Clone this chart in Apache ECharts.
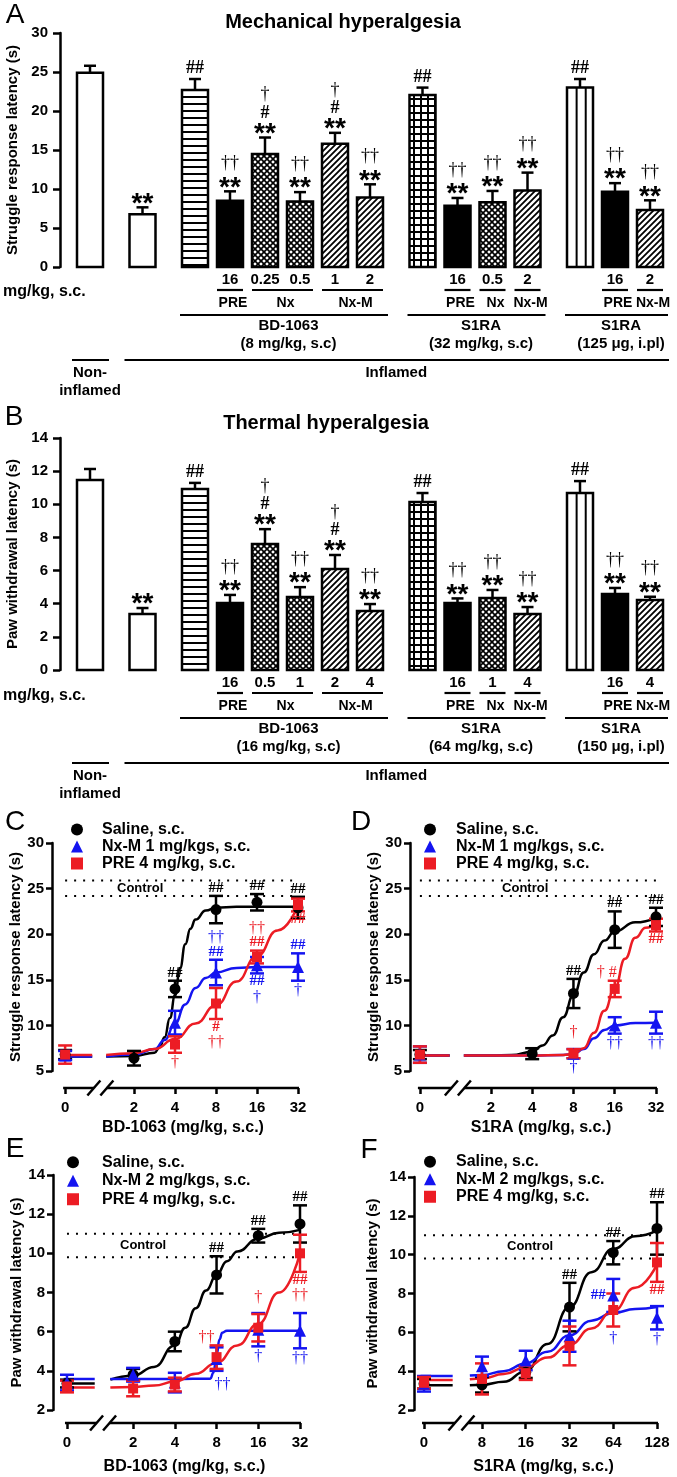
<!DOCTYPE html>
<html>
<head>
<meta charset="utf-8">
<script src="https://cdn.jsdelivr.net/npm/echarts@6/dist/echarts.min.js"></script>
<style>
  html, body { margin: 0; padding: 0; background: #fff; }
  #chart { width: 677px; height: 1477px; }
</style>
</head>
<body>
<div id="chart"></div>
<script>
const FONT = '"Liberation Sans", Arial, sans-serif';
const SERIF = '"Liberation Serif", "Times New Roman", serif';
const BLACK = '#000000', BLUE = '#1414f0', RED = '#ec1c24';

// ---------- A / B: bar charts ----------
const barGroupSizes = [1, 1, 6, 4, 3];
const mechMean = [24.9, 6.75, 22.7, 8.5, 14.5, 8.4, 15.8, 8.9, 22.05, 7.85, 8.3, 9.8, 23.0, 9.65, 7.3];
const mechSem = [0.9, 0.9, 1.4, 1.2, 2.1, 1.2, 1.4, 1.7, 0.95, 1.0, 1.45, 2.3, 1.1, 1.1, 1.25];
const thermMean = [11.47, 3.38, 10.92, 4.04, 7.6, 4.4, 6.1, 3.56, 10.14, 4.04, 4.35, 3.38, 10.68, 4.59, 4.22];
const thermSem = [0.66, 0.36, 0.37, 0.49, 0.9, 0.6, 0.84, 0.42, 0.54, 0.28, 0.48, 0.42, 0.72, 0.36, 0.2];
const barMarks = ['', '**', '##', '††|**', '†|#|**', '††|**', '†|#|**', '††|**', '##', '††|**', '††|**', '††|**', '##', '††|**', '††|**'];
const mechDoses = ['', '', '', '16', '0.25', '0.5', '1', '2', '', '16', '0.5', '2', '', '16', '2'];
const thermDoses = ['', '', '', '16', '0.5', '1', '2', '4', '', '16', '1', '4', '', '16', '4'];
const treatGroups = [['PRE', 3, 3], ['Nx', 4, 5], ['Nx-M', 6, 7], ['PRE', 9, 9], ['Nx', 10, 10], ['Nx-M', 11, 11], ['PRE', 13, 13], ['Nx-M', 14, 14]];
const mechDrugs = [['BD-1063', '(8 mg/kg, s.c)', 2, 7], ['S1RA', '(32 mg/kg, s.c)', 8, 11], ['S1RA', '(125 μg, i.pl)', 12, 14]];
const thermDrugs = [['BD-1063', '(16 mg/kg, s.c)', 2, 7], ['S1RA', '(64 mg/kg, s.c)', 8, 11], ['S1RA', '(150 μg, i.pl)', 12, 14]];
const conditionGroups = [['Non-\ninflamed', 0, 0], ['Inflamed', 1, 14]];
const barFill = ['open', 'open', 'hstripe', 'solid', 'cross', 'cross', 'diag', 'diag', 'grid', 'solid', 'cross', 'diag', 'vstripe', 'solid', 'diag'];

// ---------- C: struggle latency, BD-1063 ----------
const dosesC = [0, 2, 4, 8, 16, 32];
const salineC = [6.8, 6.4, 14.0, 22.7, 23.5, 22.9];
const salineSemC = [0.5, 0.8, 0.9, 1.5, 0.9, 1.2];
const nxmC = [6.7, null, 10.3, 15.8, 16.6, 16.4];
const nxmSemC = [0.5, null, 1.3, 1.4, 0.9, 1.5];
const preC = [6.8, null, 7.9, 12.4, 17.5, 23.2];
const preSemC = [1.0, null, 0.9, 1.7, 0.7, 0.7];
const salineFitDoseC = [1.25, 2, 2.83, 3.08, 3.36, 3.67, 4, 4.36, 4.76, 5.19, 5.66, 6.73, 8, 11.3, 16, 32];
const salineFitC = [6.6, 6.65, 7.0, 7.6, 8.7, 10.8, 13.3, 16.3, 18.9, 20.6, 21.6, 22.6, 22.9, 23.0, 23.0, 23.0];
const nxmFitDoseC = [1.25, 2, 2.83, 3.36, 4, 4.76, 5.66, 6.73, 8, 11.3, 16, 32];
const nxmFitC = [6.6, 6.8, 7.4, 8.4, 10.2, 12.3, 14.1, 15.2, 15.8, 16.3, 16.4, 16.4];
const preFitDoseC = [1.25, 2, 2.83, 4, 5.66, 8, 11.3, 16, 22.6, 32];
const preFitC = [6.75, 6.95, 7.4, 8.5, 10.2, 12.2, 14.8, 17.6, 20.4, 23.1];
const zeroFitC = [6.6, 6.6, 6.75];
const controlC = [24.2, 25.9];
const marksC = [
  [0, 4, '##', 'up'], [0, 8, '##', 'up'], [0, 16, '##', 'up'], [0, 32, '##', 'up'],
  [1, 8, '††|##', 'up'], [1, 16, '##|†', 'down'], [1, 32, '##', 'up'], [1, 32, '†', 'down'],
  [2, 4, '†', 'down'], [2, 8, '#|††', 'down'], [2, 16, '††|##', 'up'], [2, 32, '##', 'down']
];

// ---------- D: struggle latency, S1RA ----------
const dosesD = [0, 4, 8, 16, 32];
const salineD = [6.8, 6.9, 13.5, 20.5, 21.9];
const salineSemD = [0.5, 0.6, 1.6, 2.0, 1.0];
const nxmD = [6.8, null, 6.9, 10.0, 10.3];
const nxmSemD = [0.9, null, 0.5, 0.9, 1.2];
const preD = [6.8, null, 6.9, 14.0, 21.0];
const preSemD = [0.9, null, 0.5, 0.9, 0.7];
const salineFitDoseD = [1.27, 2, 2.83, 4, 4.76, 5.66, 6.73, 8, 9.51, 11.3, 13.45, 16, 22.6, 32];
const salineFitD = [6.7, 6.7, 6.75, 7.1, 7.8, 8.9, 10.9, 13.3, 15.8, 17.8, 19.3, 20.3, 21.3, 21.8];
const nxmFitDoseD = [1.27, 4, 6.73, 8, 9.51, 11.3, 13.45, 16, 22.6, 32];
const nxmFitD = [6.7, 6.7, 6.75, 6.85, 7.4, 8.6, 9.5, 10.0, 10.25, 10.3];
const preFitDoseD = [1.27, 4, 6.73, 8, 9.51, 11.3, 13.45, 16, 19.03, 22.6, 26.9, 32];
const preFitD = [6.7, 6.7, 6.75, 6.85, 7.5, 9.2, 11.6, 14.1, 17.3, 19.6, 20.7, 21.2];
const zeroFitD = [6.7, 6.7, 6.7];
const controlD = [24.2, 25.9];
const marksD = [
  [0, 8, '##', 'up'], [0, 16, '##', 'up'], [0, 32, '##', 'up'],
  [1, 8, '†', 'down'], [1, 16, '††', 'down'], [1, 32, '††', 'down'],
  [2, 8, '†', 'up', 0, -8], [2, 16, '† #', 'up', -8], [2, 32, '##', 'down']
];

// ---------- E: paw withdrawal, BD-1063 ----------
const dosesE = [0, 2, 4, 8, 16, 32];
const salineE = [3.35, 3.8, 5.5, 8.9, 10.9, 11.5];
const salineSemE = [0.2, 0.3, 0.5, 0.95, 0.35, 0.95];
const nxmE = [3.4, 3.8, 3.4, 4.6, 6.1, 6.05];
const nxmSemE = [0.4, 0.35, 0.5, 0.6, 0.85, 0.9];
const preE = [3.2, 3.1, 3.3, 4.7, 6.2, 10.0];
const preSemE = [0.3, 0.4, 0.35, 0.6, 0.7, 0.95];
const salineFitDoseE = [1.37, 2, 2.83, 4, 4.76, 5.66, 6.73, 8, 9.51, 11.3, 16, 22.6, 32];
const salineFitE = [3.55, 3.75, 4.2, 5.3, 6.2, 7.2, 8.1, 8.9, 9.6, 10.1, 10.75, 11.05, 11.2];
const nxmFitDoseE = [1.37, 4, 7.2, 7.6, 8, 8.4, 8.8, 9.5, 16, 32];
const nxmFitE = [3.58, 3.58, 3.6, 3.9, 4.8, 5.6, 5.95, 6.05, 6.05, 6.05];
const preFitDoseE = [1.37, 2, 2.83, 4, 5.66, 8, 11.3, 16, 22.6, 32];
const preFitE = [3.15, 3.18, 3.25, 3.45, 3.85, 4.4, 5.3, 6.4, 8.0, 10.0];
const zeroFitE = [3.35, 3.58, 3.15];
const controlE = [9.8, 11.0];
const marksE = [
  [0, 8, '##', 'up'], [0, 16, '##', 'up'], [0, 32, '##', 'up'],
  [1, 8, '††', 'down', 6, 4], [1, 16, '†', 'down'], [1, 32, '††', 'down'],
  [2, 8, '††', 'up', -10], [2, 16, '†', 'up', 0, -8], [2, 32, '##|††', 'down']
];

// ---------- F: paw withdrawal, S1RA ----------
const dosesF = [0, 8, 16, 32, 64, 128];
const salineF = [3.35, 3.3, 3.95, 7.3, 10.1, 11.35];
const salineSemF = [0.25, 0.4, 0.3, 1.25, 0.6, 1.35];
const nxmF = [3.35, 4.25, 4.55, 5.8, 7.9, 6.75];
const nxmSemF = [0.4, 0.5, 0.5, 0.8, 0.85, 0.6];
const preF = [3.4, 3.6, 3.9, 5.3, 7.15, 9.6];
const preSemF = [0.3, 0.8, 0.35, 1.0, 0.85, 1.0];
const fitDoseF = [6.6, 8, 11.3, 16, 22.6, 32, 45.3, 64, 90.5, 128];
const salineFitF = [3.28, 3.3, 3.45, 4.0, 5.4, 7.3, 9.1, 10.3, 10.95, 11.25];
const nxmFitF = [3.78, 3.8, 4.0, 4.4, 5.0, 5.85, 6.6, 7.0, 7.2, 7.3];
const preFitF = [3.58, 3.62, 3.85, 4.2, 4.7, 5.35, 6.2, 7.1, 8.3, 9.5];
const zeroFitF = [3.28, 3.75, 3.55];
const controlF = [9.8, 11.0];
const marksF = [
  [0, 32, '##', 'up'], [0, 64, '##', 'up'], [0, 128, '##', 'up'],
  [1, 64, '##', 'left'], [1, 64, '†', 'down', 0, 17], [1, 128, '†', 'down'],
  [2, 128, '##', 'down']
];

const namesCD = ['Saline, s.c.', 'Nx-M 1 mg/kgs, s.c.', 'PRE 4 mg/kg, s.c.'];
const namesEF = ['Saline, s.c.', 'Nx-M 2 mg/kgs, s.c.', 'PRE 4 mg/kg, s.c.'];
const ticksBD = [0, 2, 4, 8, 16, 32];
const ticksS1RA = [0, 8, 16, 32, 64, 128];

// ---------- layout ----------
const groupColors = [BLACK, BLUE, RED];
const groupSymbols = ['circle', 'triangle', 'rect'];
const groupSymbolSize = [11, 12, 10];
const BAR_W = 26 / 35;

const layC = { grid: 2, left: 52, top: 843, width: 246, height: 228, xMin: -1, xMax: 5, yMin: 5, yMax: 30, yStep: 5, zeroPos: -0.68, breakAt: 0.18, offset: 17, ctrlAt: 1.15, name: 'Struggle response latency (s)', nameGap: 27, xName: 'BD-1063 (mg/kg, s.c.)', xNameGap: 32, ticks: ticksBD };
const layD = { grid: 3, left: 410, top: 843, width: 246, height: 228, xMin: -0.96, xMax: 5, yMin: 5, yMax: 30, yStep: 5, zeroPos: -0.72, breakAt: 0.2, offset: 17, ctrlAt: 1.83, name: 'Struggle response latency (s)', nameGap: 29, xName: 'S1RA (mg/kg, s.c.)', xNameGap: 32, ticks: ticksBD };
const layE = { grid: 4, left: 53, top: 1175, width: 247, height: 235, xMin: -0.92, xMax: 5, yMin: 2, yMax: 14, yStep: 2, zeroPos: -0.585, breakAt: 0.28, offset: 13, ctrlAt: 1.24, name: 'Paw withdrawal latency (s)', nameGap: 27, xName: 'BD-1063 (mg/kg, s.c.)', xNameGap: 36, ticks: ticksBD };
const layF = { grid: 5, left: 414, top: 1177, width: 243, height: 233, xMin: 1.446, xMax: 7, yMin: 2, yMax: 14, yStep: 2, zeroPos: 1.675, breakAt: 2.53, offset: 13, ctrlAt: 4.1, name: 'Paw withdrawal latency (s)', nameGap: 34, xName: 'S1RA (mg/kg, s.c.)', xNameGap: 36, ticks: ticksS1RA };

// ---------- bar fill patterns ----------
function patternCanvas(w, h, draw) {
  const c = document.createElement('canvas');
  c.width = w; c.height = h;
  const ctx = c.getContext('2d');
  ctx.fillStyle = '#fff'; ctx.fillRect(0, 0, w, h);
  ctx.fillStyle = '#000'; ctx.strokeStyle = '#000';
  draw(ctx);
  return { image: c, repeat: 'repeat' };
}
const fillStyles = {
  open: '#fff',
  solid: '#000',
  vstripe: '#fff',
  hstripe: patternCanvas(8, 7, ctx => ctx.fillRect(0, 5, 8, 2)),
  grid: patternCanvas(7, 7, ctx => { ctx.fillRect(0, 0, 7, 2); ctx.fillRect(0, 0, 2, 7); }),
  diag: patternCanvas(6, 6, ctx => {
    ctx.lineWidth = 1.8; ctx.beginPath();
    ctx.moveTo(-1, 7); ctx.lineTo(7, -1);
    ctx.moveTo(-1, 1); ctx.lineTo(1, -1);
    ctx.moveTo(5, 7); ctx.lineTo(7, 5);
    ctx.stroke();
  }),
  cross: patternCanvas(6, 6, ctx => {
    ctx.lineWidth = 1.7; ctx.beginPath();
    ctx.moveTo(-1, 7); ctx.lineTo(7, -1);
    ctx.moveTo(-1, -1); ctx.lineTo(7, 7);
    ctx.stroke();
  })
};

// ---------- significance marks ----------
const BAR_MARKS = {
  '*': { font: `bold 28px ${FONT}`, h: 14, dy: 6.5 },
  '#': { font: `bold 18px ${SERIF}`, h: 15, dy: 0 },
  '†': { font: `18px ${SERIF}`, h: 24, dy: 1 }
};
const DOSE_MARKS = {
  '*': { font: `bold 22px ${FONT}`, h: 12, dy: 5 },
  '#': { font: `bold 15px ${SERIF}`, h: 14, dy: 0 },
  '†': { font: `16px ${SERIF}`, h: 16, dy: 1 }
};

function markStack(lines, x, y0, dir, set, color) {
  const order = dir < 0 ? lines.slice().reverse() : lines;
  let cursor = y0;
  return order.map(line => {
    const f = set[line.trim()[0]];
    const cy = cursor + dir * f.h / 2;
    cursor += dir * f.h;
    return { type: 'text', x, y: cy + f.dy, style: { text: line, font: f.font, fill: color, align: 'center', verticalAlign: 'middle' } };
  });
}

// ---------- slot positions for the bars ----------
const slotPos = [];
(function () {
  let p = 0;
  barGroupSizes.forEach((n, g) => {
    if (g > 0) p += 0.5;
    for (let k = 0; k < n; k++) { slotPos.push(p); p += 1; }
  });
})();

function barRenderer(params, api) {
  const i = params.dataIndex;
  const x = api.value(0), m = api.value(1), s = api.value(2);
  const base = api.coord([x, 0]), top = api.coord([x, m]), et = api.coord([x, m + s]);
  const w = api.size([BAR_W, 0])[0];
  const x0 = base[0] - w / 2;
  const st = { stroke: '#000', lineWidth: 2.5 };
  const children = [
    { type: 'line', shape: { x1: base[0], y1: top[1], x2: base[0], y2: et[1] }, style: st },
    { type: 'line', shape: { x1: base[0] - 6, y1: et[1], x2: base[0] + 6, y2: et[1] }, style: st },
    { type: 'rect', shape: { x: x0, y: top[1], width: w, height: base[1] - top[1] }, style: { fill: fillStyles[barFill[i]], stroke: '#000', lineWidth: 2.5 } }
  ];
  if (barFill[i] === 'vstripe') {
    [0.37, 0.72].forEach(f => children.push({ type: 'line', shape: { x1: x0 + f * w, y1: top[1], x2: x0 + f * w, y2: base[1] }, style: { stroke: '#000', lineWidth: 2 } }));
  }
  if (barMarks[i]) children.push(...markStack(barMarks[i].split('|'), base[0], et[1] - 3, -1, BAR_MARKS, '#000'));
  return { type: 'group', children };
}

function buildBarAnnotations(doses, drugs) {
  const items = [];
  doses.forEach((d, i) => { if (d) items.push({ kind: 'dose', text: d, from: i, to: i }); });
  treatGroups.forEach(t => items.push({ kind: 'treat', text: t[0], from: t[1], to: t[2] }));
  drugs.forEach(t => items.push({ kind: 'drug', text: t[0], sub: t[1], from: t[2], to: t[3] }));
  conditionGroups.forEach(t => items.push({ kind: 'cond', text: t[0], from: t[1], to: t[2] }));
  return items;
}

function annoRenderer(items) {
  return (params, api) => {
    const a = items[params.dataIndex];
    const zeroY = api.coord([0, 0])[1];
    const half = api.size([BAR_W, 0])[0] / 2;
    const xl = api.coord([api.value(0), 0])[0] - half;
    const xr = api.coord([api.value(1), 0])[0] + half;
    const xc = (xl + xr) / 2;
    const st = { stroke: '#000', lineWidth: 2.2 };
    const txt = (text, x, y, size) => ({ type: 'text', x, y, style: { text, font: `bold ${size || 15}px ${FONT}`, fill: '#000', align: 'center', verticalAlign: 'middle', lineHeight: 18 } });
    const ln = (x1, x2, y) => ({ type: 'line', shape: { x1, y1: y, x2, y2: y }, style: st });
    if (a.kind === 'dose') return txt(a.text, xc, zeroY + 13);
    if (a.kind === 'treat') return { type: 'group', children: [ln(xl, xr, zeroY + 23), txt(a.text, xc + 3, zeroY + 36, 14)] };
    if (a.kind === 'drug') return { type: 'group', children: [ln(xl - 2, xr + 5, zeroY + 48), txt(a.text, xc + 6, zeroY + 59), txt(a.sub, xc + 6, zeroY + 77)] };
    const twoLine = a.text.indexOf('\n') >= 0;
    return { type: 'group', children: [ln(xl - 5, xr + 6, zeroY + 93), txt(a.text, xc, zeroY + (twoLine ? 115 : 106))] };
  };
}

// ---------- dose-response panels ----------
function doseX(d, zeroPos) { return d === 0 ? zeroPos : Math.log2(d); }

function dosePanelSeries(L, names, doses, means, sems, fitDoses, fits, zeroFit, control, marks) {
  const ax = { xAxisIndex: L.grid, yAxisIndex: L.grid };
  const series = [];
  // control band
  series.push(Object.assign({
    type: 'custom', z: 1, clip: false, silent: true,
    data: [[L.zeroPos, L.xMax, control[0], control[1]]],
    renderItem: (params, api) => {
      const lo = api.coord([api.value(0), api.value(2)]);
      const hi = api.coord([api.value(0), api.value(3)]);
      const xe = api.coord([api.value(1), api.value(2)])[0];
      const mid = api.coord([L.ctrlAt, (api.value(2) + api.value(3)) / 2]);
      const dot = { stroke: '#000', lineWidth: 2, lineDash: [2, 7] };
      return { type: 'group', children: [
        { type: 'line', shape: { x1: lo[0], y1: lo[1], x2: xe, y2: lo[1] }, style: dot },
        { type: 'line', shape: { x1: hi[0], y1: hi[1], x2: xe, y2: hi[1] }, style: dot },
        { type: 'text', x: mid[0], y: mid[1], style: { text: 'Control', font: `bold 13px ${FONT}`, fill: '#000', align: 'center', verticalAlign: 'middle' } }
      ] };
    }
  }, ax));
  // x axis line with break
  series.push(Object.assign({
    type: 'custom', z: 2, clip: false, silent: true,
    data: [[L.xMin, L.yMin]],
    renderItem: (params, api) => {
      const y = api.coord([L.xMin, L.yMin])[1] + L.offset;
      const x0 = api.coord([L.zeroPos, L.yMin])[0] - 2;
      const xb = api.coord([L.breakAt, L.yMin])[0];
      const x1 = api.coord([doseX(L.ticks[L.ticks.length - 1], L.zeroPos), L.yMin])[0] + 1;
      const st = { stroke: '#000', lineWidth: 2.5 };
      return { type: 'group', children: [
        { type: 'line', shape: { x1: x0, y1: y, x2: xb - 6.5, y2: y }, style: st },
        { type: 'line', shape: { x1: xb + 6.5, y1: y, x2: x1, y2: y }, style: st },
        { type: 'line', shape: { x1: xb - 13, y1: y + 7.5, x2: xb, y2: y - 7.5 }, style: st },
        { type: 'line', shape: { x1: xb, y1: y + 7.5, x2: xb + 13, y2: y - 7.5 }, style: st }
      ] };
    }
  }, ax));
  for (let g = 0; g < 3; g++) {
    const col = groupColors[g];
    series.push(Object.assign({
      type: 'line', z: 2, clip: false, silent: true, symbol: 'none',
      lineStyle: { color: col, width: 2.5 },
      data: [[L.zeroPos - 0.08, zeroFit[g]], [L.breakAt - 0.2, zeroFit[g]]]
    }, ax));
    series.push(Object.assign({
      type: 'line', z: 2, clip: false, silent: true, symbol: 'none', smooth: true, smoothMonotone: 'x',
      lineStyle: { color: col, width: 2.5 },
      data: fitDoses[g].map((d, i) => [Math.log2(d), fits[g][i]])
    }, ax));
  }
  for (let g = 0; g < 3; g++) {
    const col = groupColors[g];
    const pts = [];
    doses.forEach((d, i) => { if (means[g][i] != null) pts.push([doseX(d, L.zeroPos), means[g][i], sems[g][i]]); });
    series.push(Object.assign({
      type: 'custom', z: 3, clip: false, silent: true, data: pts,
      renderItem: (params, api) => {
        const x = api.value(0), m = api.value(1), s = api.value(2);
        const t = api.coord([x, m + s]), b = api.coord([x, m - s]);
        const st = { stroke: col, lineWidth: 2.5 };
        return { type: 'group', children: [
          { type: 'line', shape: { x1: t[0], y1: t[1], x2: b[0], y2: b[1] }, style: st },
          { type: 'line', shape: { x1: t[0] - 7, y1: t[1], x2: t[0] + 7, y2: t[1] }, style: st },
          { type: 'line', shape: { x1: b[0] - 7, y1: b[1], x2: b[0] + 7, y2: b[1] }, style: st }
        ] };
      }
    }, ax));
  }
  for (let g = 0; g < 3; g++) {
    const pts = [];
    doses.forEach((d, i) => { if (means[g][i] != null) pts.push([doseX(d, L.zeroPos), means[g][i]]); });
    series.push(Object.assign({
      type: 'scatter', name: names[g], z: 4, clip: false, silent: true,
      symbol: groupSymbols[g], symbolSize: groupSymbolSize[g],
      itemStyle: { color: groupColors[g], opacity: 1 },
      data: pts
    }, ax));
  }
  // significance marks
  series.push(Object.assign({
    type: 'custom', z: 5, clip: false, silent: true,
    data: marks.map(sp => {
      const i = doses.indexOf(sp[1]);
      return [doseX(sp[1], L.zeroPos), means[sp[0]][i], sems[sp[0]][i]];
    }),
    renderItem: (params, api) => {
      const sp = marks[params.dataIndex];
      const x = api.value(0), m = api.value(1), s = api.value(2);
      const col = groupColors[sp[0]];
      const dx = sp[4] || 0, dy = sp[5] || 0;
      const lines = sp[2].split('|');
      let children;
      if (sp[3] === 'up') {
        const p = api.coord([x, m + s]);
        children = markStack(lines, p[0] + dx, p[1] - 1 + dy, -1, DOSE_MARKS, col);
      } else if (sp[3] === 'down') {
        const p = api.coord([x, m - s]);
        children = markStack(lines, p[0] + dx, p[1] + 1 + dy, 1, DOSE_MARKS, col);
      } else {
        const p = api.coord([x, m]);
        children = [{ type: 'text', x: p[0] - 15 + dx, y: p[1] + dy, style: { text: sp[2], font: DOSE_MARKS['#'].font, fill: col, align: 'center', verticalAlign: 'middle' } }];
      }
      return { type: 'group', children };
    }
  }, ax));
  return series;
}

// ---------- axes ----------
const axisLineStyle = { color: '#000', width: 2.5 };
function yAxisCfg(grid, min, max, step, name, gap, tickLen, margin) {
  return {
    type: 'value', gridIndex: grid, min, max, interval: step,
    name, nameLocation: 'middle', nameGap: gap, nameRotate: 90,
    nameTextStyle: { fontFamily: FONT, fontWeight: 'bold', fontSize: 15, color: '#000' },
    axisLine: { show: true, onZero: false, lineStyle: axisLineStyle },
    axisTick: { show: true, length: tickLen, lineStyle: axisLineStyle },
    axisLabel: { color: '#000', fontFamily: FONT, fontWeight: 'bold', fontSize: 15, margin },
    splitLine: { show: false }
  };
}
function doseAxisCfg(L) {
  const ticks = L.ticks.map(d => doseX(d, L.zeroPos));
  return {
    type: 'value', gridIndex: L.grid, min: L.xMin, max: L.xMax, offset: L.offset,
    name: L.xName, nameLocation: 'middle', nameGap: L.xNameGap,
    nameTextStyle: { fontFamily: FONT, fontWeight: 'bold', fontSize: 16, color: '#000', padding: [0, 0, 0, 16] },
    axisLine: { show: false, onZero: false },
    axisTick: { show: true, customValues: ticks, length: 6, lineStyle: axisLineStyle },
    axisLabel: {
      customValues: ticks, margin: 12, color: '#000', fontFamily: FONT, fontWeight: 'bold', fontSize: 15,
      formatter: v => {
        const k = ticks.findIndex(t => Math.abs(t - v) < 1e-6);
        return k >= 0 ? String(L.ticks[k]) : '';
      }
    },
    splitLine: { show: false }
  };
}
// icon centre at iconX, text starting at textX
function legendCfg(iconX, textX, top, lineHeight, names) {
  return {
    orient: 'vertical', left: iconX - 6, top, padding: 0, itemGap: 0, itemWidth: 12, itemHeight: 12,
    selectedMode: false,
    textStyle: { fontFamily: FONT, fontWeight: 'bold', fontSize: 16, color: '#000', lineHeight, padding: [0, 0, 0, textX - iconX - 11] },
    data: names.map((n, i) => ({ name: n, icon: groupSymbols[i] }))
  };
}
function gridOf(L) { return { left: L.left, top: L.top, width: L.width, height: L.height, outerBoundsMode: 'none' }; }

const annA = buildBarAnnotations(mechDoses, mechDrugs);
const annB = buildBarAnnotations(thermDoses, thermDrugs);

function textEl(text, x, y, font, align) {
  return { type: 'text', x, y, silent: true, style: { text, font, fill: '#000', align: align || 'center', verticalAlign: 'middle' } };
}

const option = {
  animation: false,
  backgroundColor: '#fff',
  textStyle: { fontFamily: FONT },
  grid: [
    { left: 60, top: 33, width: 610, height: 234, outerBoundsMode: 'none' },
    { left: 60, top: 438, width: 610, height: 232, outerBoundsMode: 'none' },
    gridOf(layC), gridOf(layD), gridOf(layE), gridOf(layF)
  ],
  xAxis: [
    { type: 'value', gridIndex: 0, min: -6 / 7, max: 116 / 7, show: false },
    { type: 'value', gridIndex: 1, min: -6 / 7, max: 116 / 7, show: false },
    doseAxisCfg(layC), doseAxisCfg(layD), doseAxisCfg(layE), doseAxisCfg(layF)
  ],
  yAxis: [
    yAxisCfg(0, 0, 30, 5, 'Struggle response latency (s)', 35, 7, 12),
    yAxisCfg(1, 0, 14, 2, 'Paw withdrawal latency (s)', 40, 7, 12),
    yAxisCfg(2, layC.yMin, layC.yMax, layC.yStep, layC.name, layC.nameGap, 6, 8),
    yAxisCfg(3, layD.yMin, layD.yMax, layD.yStep, layD.name, layD.nameGap, 6, 8),
    yAxisCfg(4, layE.yMin, layE.yMax, layE.yStep, layE.name, layE.nameGap, 6, 8),
    yAxisCfg(5, layF.yMin, layF.yMax, layF.yStep, layF.name, layF.nameGap, 6, 8)
  ],
  legend: [
    legendCfg(77, 102, 821, 17, namesCD),
    legendCfg(430, 456, 821, 17, namesCD),
    legendCfg(73, 102, 1153, 18.5, namesEF),
    legendCfg(430, 456, 1153, 17.5, namesEF)
  ],
  graphic: [
    textEl('A', 15, 15, `28px ${FONT}`),
    textEl('Mechanical hyperalgesia', 343, 22, `bold 20px ${FONT}`),
    textEl('mg/kg, s.c.', 3, 292, `bold 16px ${FONT}`, 'left'),
    textEl('B', 14, 417, `28px ${FONT}`),
    textEl('Thermal hyperalgesia', 326, 423, `bold 20px ${FONT}`),
    textEl('mg/kg, s.c.', 3, 696, `bold 16px ${FONT}`, 'left'),
    textEl('C', 15, 822, `28px ${FONT}`),
    textEl('D', 361, 822, `28px ${FONT}`),
    textEl('E', 15, 1149, `28px ${FONT}`),
    textEl('F', 369, 1150, `28px ${FONT}`)
  ],
  series: [
    { type: 'custom', xAxisIndex: 0, yAxisIndex: 0, z: 2, clip: false, silent: true,
      data: slotPos.map((p, i) => [p, mechMean[i], mechSem[i]]), renderItem: barRenderer },
    { type: 'custom', xAxisIndex: 0, yAxisIndex: 0, z: 2, clip: false, silent: true,
      data: annA.map(a => [slotPos[a.from], slotPos[a.to], 0]), renderItem: annoRenderer(annA) },
    { type: 'custom', xAxisIndex: 1, yAxisIndex: 1, z: 2, clip: false, silent: true,
      data: slotPos.map((p, i) => [p, thermMean[i], thermSem[i]]), renderItem: barRenderer },
    { type: 'custom', xAxisIndex: 1, yAxisIndex: 1, z: 2, clip: false, silent: true,
      data: annB.map(a => [slotPos[a.from], slotPos[a.to], 0]), renderItem: annoRenderer(annB) },
    ...dosePanelSeries(layC, namesCD, dosesC, [salineC, nxmC, preC], [salineSemC, nxmSemC, preSemC],
      [salineFitDoseC, nxmFitDoseC, preFitDoseC], [salineFitC, nxmFitC, preFitC], zeroFitC, controlC, marksC),
    ...dosePanelSeries(layD, namesCD, dosesD, [salineD, nxmD, preD], [salineSemD, nxmSemD, preSemD],
      [salineFitDoseD, nxmFitDoseD, preFitDoseD], [salineFitD, nxmFitD, preFitD], zeroFitD, controlD, marksD),
    ...dosePanelSeries(layE, namesEF, dosesE, [salineE, nxmE, preE], [salineSemE, nxmSemE, preSemE],
      [salineFitDoseE, nxmFitDoseE, preFitDoseE], [salineFitE, nxmFitE, preFitE], zeroFitE, controlE, marksE),
    ...dosePanelSeries(layF, namesEF, dosesF, [salineF, nxmF, preF], [salineSemF, nxmSemF, preSemF],
      [fitDoseF, fitDoseF, fitDoseF], [salineFitF, nxmFitF, preFitF], zeroFitF, controlF, marksF)
  ]
};

const chart = echarts.init(document.getElementById('chart'), null, { renderer: 'canvas', width: 677, height: 1477 });
chart.setOption(option);
</script>
</body>
</html>
